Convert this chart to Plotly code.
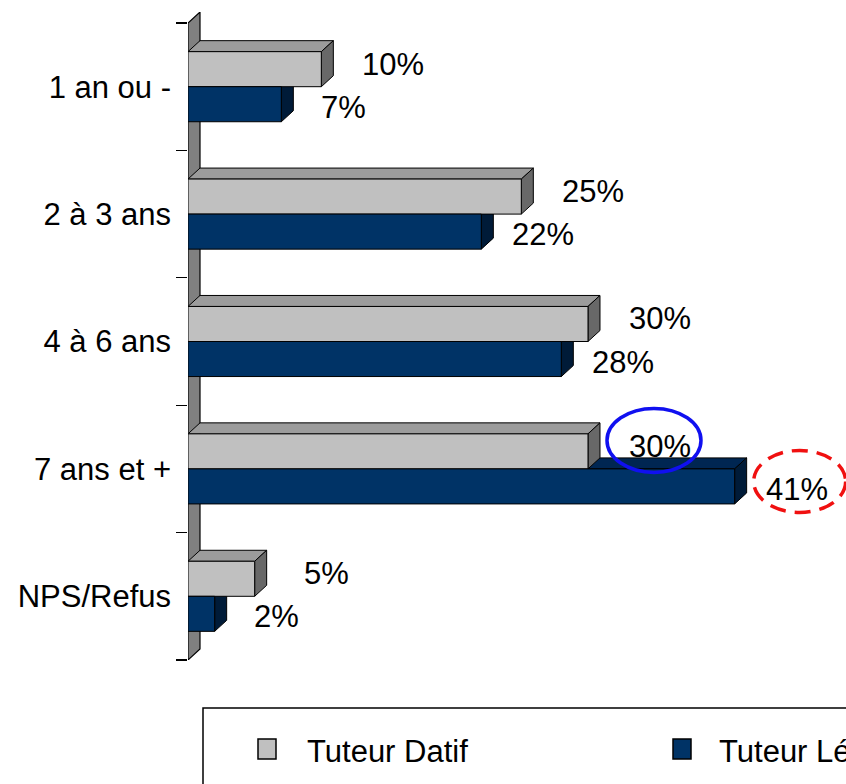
import plotly.graph_objects as go

# ---- data ----
categories = ["1 an ou -", "2 à 3 ans", "4 à 6 ans", "7 ans et +", "NPS/Refus"]
datif = [10, 25, 30, 30, 5]
legal = [7, 22, 28, 41, 2]
series_names = ["Tuteur Datif", "Tuteur Légal"]
highlight_cat = "7 ans et +"

# ---- styles ----
FONT = "Liberation Sans, Arial, sans-serif"
FS = 31
W, H = 846, 784
ML, MR, MT, MB = 188, 0, 12, 124
plot_w = W - ML - MR
plot_h = H - MT - MB
XMAX = plot_w / 13.333          # 13.33 px per percent
DEPTH_X_PX, DEPTH_Y_PX = 12, 11
band_px = plot_h / (5 + DEPTH_Y_PX / 127.4)
DX = DEPTH_X_PX / (plot_w / XMAX)
DY = DEPTH_Y_PX / band_px
BW = 0.275

colors = {
    "Tuteur Datif": dict(front="#C0C0C0", top="#9C9C9C", side="#686868"),
    "Tuteur Légal": dict(front="#003366", top="#002652", side="#001B38"),
}

def px2paper_x(px):
    return (px - ML) / plot_w

def px2paper_y(py):
    return (H - MB - py) / plot_h

pos = list(range(len(categories)))
fig = go.Figure()
shapes = []

# wall (left depth wall)
shapes.append(dict(type="path", xref="x", yref="y", layer="below",
                   path=f"M 0,-0.5 L {DX},{-0.5-DY} L {DX},{4.5-DY} L 0,4.5 Z",
                   fillcolor="#808080", line=dict(color="black", width=1.2)))

series = [(legal, 0.0, "Tuteur Légal"), (datif, -BW, "Tuteur Datif")]
# draw navy 3D faces first, then gray so gray covers navy top faces
for vals, off, name in series:
    c = colors[name]
    for p, v in zip(pos, vals):
        a = p + off
        b = a + BW
        shapes.append(dict(type="path", xref="x", yref="y", layer="below",
                           path=f"M 0,{a} L {v},{a} L {v+DX},{a-DY} L {DX},{a-DY} Z",
                           fillcolor=c["top"], line=dict(color="black", width=1)))
        shapes.append(dict(type="path", xref="x", yref="y", layer="below",
                           path=f"M {v},{a} L {v+DX},{a-DY} L {v+DX},{b-DY} L {v},{b} Z",
                           fillcolor=c["side"], line=dict(color="black", width=1)))

for name, vals, off in [("Tuteur Datif", datif, -BW), ("Tuteur Légal", legal, 0.0)]:
    fig.add_trace(go.Bar(
        x=vals, y=pos, orientation="h", name=name, width=BW, offset=off,
        marker=dict(color=colors[name]["front"], line=dict(color="black", width=1)),
        showlegend=False, hoverinfo="skip"))

# value labels
annotations = []
label_style = {"Tuteur Datif": dict(xs=72, ys=5, off=-BW / 2),
               "Tuteur Légal": dict(xs=62, ys=-3, off=BW / 2)}
hl_idx = categories.index(highlight_cat)
for name, vals in [("Tuteur Datif", datif), ("Tuteur Légal", legal)]:
    st = label_style[name]
    for p, v in zip(pos, vals):
        yc = p + st["off"]
        annotations.append(dict(x=v, y=yc, xref="x", yref="y", text=f"{v}%",
                                showarrow=False, xanchor="center", yanchor="middle",
                                xshift=st["xs"], yshift=st["ys"],
                                font=dict(family=FONT, size=FS, color="black")))
        if p == hl_idx:
            if name == "Tuteur Datif":
                rx, ry = 47, 32
                ln = dict(color="#1010F0", width=3.5)
                cx, cy = st["xs"] - 6, st["ys"] + 6
            else:
                rx, ry = 46, 31
                ln = dict(color="#F01010", width=3.5, dash="16px,9px")
                cx, cy = st["xs"] + 3, st["ys"] + 8
            shapes.append(dict(type="circle", xref="x", yref="y",
                               xsizemode="pixel", ysizemode="pixel",
                               xanchor=v, yanchor=yc,
                               x0=cx - rx, x1=cx + rx, y0=cy - ry, y1=cy + ry,
                               line=ln, layer="above"))

# manual legend (box extends past the right edge, as in the original)
shapes.append(dict(type="rect", xref="paper", yref="paper",
                   x0=px2paper_x(203), x1=px2paper_x(1000),
                   y0=px2paper_y(708), y1=px2paper_y(820),
                   line=dict(color="black", width=1.5), fillcolor="rgba(0,0,0,0)"))
legend_items = [(series_names[0], 258, 305), (series_names[1], 673, 717)]
for name, sq_x, tx in legend_items:
    shapes.append(dict(type="rect", xref="paper", yref="paper",
                       x0=px2paper_x(sq_x), x1=px2paper_x(sq_x + 18),
                       y0=px2paper_y(739), y1=px2paper_y(759),
                       fillcolor=colors[name]["front"], line=dict(color="black", width=1.5)))
    annotations.append(dict(x=px2paper_x(tx), y=px2paper_y(751), xref="paper", yref="paper",
                            text=name, showarrow=False, xanchor="left", yanchor="middle",
                            font=dict(family=FONT, size=FS, color="black")))

fig.update_layout(
    width=W, height=H,
    margin=dict(l=ML, r=MR, t=MT, b=MB),
    paper_bgcolor="white", plot_bgcolor="white",
    barmode="overlay",
    shapes=shapes, annotations=annotations,
    xaxis=dict(range=[0, XMAX], visible=False, fixedrange=True),
    yaxis=dict(range=[4.5, -0.5 - DY], tickvals=pos, ticktext=categories,
               ticks="", showgrid=False, zeroline=False, showline=False,
               ticklabelstandoff=16, fixedrange=True,
               tickfont=dict(family=FONT, size=FS, color="black"),
               minor=dict(tickvals=[-0.5, 0.5, 1.5, 2.5, 3.5, 4.5], ticks="outside",
                          ticklen=11, tickcolor="black", tickwidth=1.2, showgrid=False)),
    showlegend=False,
)

fig.write_html("out.html", config={"displayModeBar": False, "staticPlot": True},
               post_script="document.body.style.margin='0';document.body.style.overflow='hidden';")
